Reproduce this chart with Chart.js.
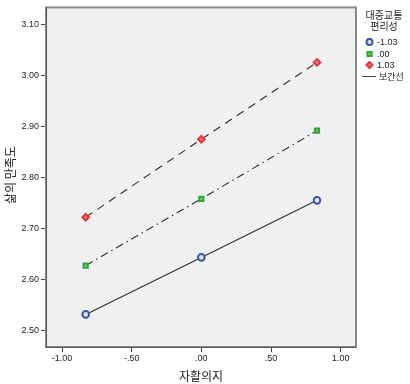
<!DOCTYPE html>
<html>
<head>
<meta charset="utf-8">
<script src="https://cdn.jsdelivr.net/npm/chart.js@4.4.0/dist/chart.umd.min.js"></script>
<style>
  html, body { margin: 0; padding: 0; background: #fff; }
  #wrap { width: 410px; height: 384px; position: relative; }
</style>
</head>
<body>
<div id="wrap"><canvas id="myChart" width="410" height="384"></canvas></div>
<script>
'use strict';

//***********Data***********
let xValues = [-0.83, 0, 0.83];
let lowSeries = [2.531, 2.643, 2.755];
let midSeries = [2.627, 2.758, 2.892];
let highSeries = [2.722, 2.875, 3.026];
let seriesNames = ['-1.03', '.00', '1.03'];
let xTickValues = [-1, -0.5, 0, 0.5, 1];
let xTickLabels = ['-1.00', '-.50', '.00', '.50', '1.00'];
let yTickValues = [2.5, 2.6, 2.7, 2.8, 2.9, 3.0, 3.1];
let yTickLabels = ['2.50', '2.60', '2.70', '2.80', '2.90', '3.00', '3.10'];
let legendTitle = ['대중교통', '편리성'];
let lineLabel = '보간선';
let xTitle = '자활의지';
let yTitle = '삶의 만족도';

let markerColors = ['#3b55a6', '#2fa43a', '#e2353c'];
let markerFills = ['#dfe6f5', '#6fd06a', '#f07a7a'];
let markerStyles = ['circle', 'rect', 'rectRot'];
let dashes = [[], [8, 4, 1.5, 4], [8, 6]];
let seriesData = [lowSeries, midSeries, highSeries];

let koreanFont = '"Noto Sans CJK KR", "Noto Sans", sans-serif';

function toPoints(values) {
  let pts = [];
  for (let i = 0; i < xValues.length; i++) {
    pts.push({ x: xValues[i], y: values[i] });
  }
  return pts;
}

let datasets = [];
for (let i = 0; i < seriesData.length; i++) {
  datasets.push({
    label: seriesNames[i],
    data: toPoints(seriesData[i]),
    showLine: true,
    borderColor: '#2e2e2e',
    borderWidth: 1.1,
    borderDash: dashes[i],
    pointStyle: markerStyles[i],
    pointRadius: i === 1 ? 3 : 3.3,
    pointBorderWidth: 2,
    pointBorderColor: markerColors[i],
    pointBackgroundColor: markerFills[i],
    tension: 0
  });
}

// plot frame + background
let framePlugin = {
  id: 'frame',
  beforeDatasetsDraw(chart) {
    let ctx = chart.ctx;
    let a = chart.chartArea;
    ctx.save();
    ctx.strokeStyle = '#8a8a8a';
    ctx.lineWidth = 2;
    ctx.strokeRect(a.left, a.top, a.right - a.left, a.bottom - a.top);
    ctx.strokeStyle = '#555';
    ctx.lineWidth = 1;
    ctx.beginPath();
    ctx.moveTo(a.left + 0.5, a.top);
    ctx.lineTo(a.left + 0.5, a.bottom + 0.5);
    ctx.lineTo(a.right, a.bottom + 0.5);
    ctx.stroke();
    ctx.restore();
  },
  beforeDraw(chart) {
    let ctx = chart.ctx;
    let a = chart.chartArea;
    ctx.save();
    ctx.fillStyle = '#f0f0f0';
    ctx.fillRect(a.left, a.top, a.right - a.left, a.bottom - a.top);
    ctx.restore();
  }
};

// axis titles and legend
let textPlugin = {
  id: 'texts',
  afterDraw(chart) {
    let ctx = chart.ctx;
    ctx.save();
    ctx.fillStyle = '#222';
    ctx.textAlign = 'center';
    ctx.textBaseline = 'middle';
    ctx.font = '12px ' + koreanFont;
    ctx.fillText(xTitle, 201, 376);
    ctx.save();
    ctx.translate(10, 175);
    ctx.rotate(-Math.PI / 2);
    ctx.fillText(yTitle, 0, 0);
    ctx.restore();

    // legend
    ctx.font = '10px ' + koreanFont;
    ctx.fillText(legendTitle[0], 384, 15);
    ctx.fillText(legendTitle[1], 384, 26);
    ctx.textAlign = 'left';
    ctx.font = '9px "Liberation Sans", Arial, sans-serif';
    let rowY = [42, 54, 65];
    for (let i = 0; i < seriesNames.length; i++) {
      ctx.save();
      ctx.lineWidth = 2;
      ctx.strokeStyle = markerColors[i];
      ctx.fillStyle = markerFills[i];
      Chart.helpers.drawPoint(ctx, { pointStyle: markerStyles[i], radius: 3, borderWidth: 2 }, 369.5, rowY[i]);
      ctx.restore();
      ctx.fillText(seriesNames[i], 377, rowY[i] + 0.5);
    }
    ctx.strokeStyle = '#444';
    ctx.lineWidth = 1;
    ctx.beginPath();
    ctx.moveTo(362, 76.5);
    ctx.lineTo(376, 76.5);
    ctx.stroke();
    ctx.font = '9px ' + koreanFont;
    ctx.fillText(lineLabel, 379, 76.5);
    ctx.restore();
  }
};

let tickFont = { family: '"Liberation Sans", Arial, sans-serif', size: 9 };

let ctx = document.getElementById('myChart').getContext('2d');
new Chart(ctx, {
  type: 'scatter',
  data: { datasets: datasets },
  options: {
    responsive: false,
    animation: false,
    layout: { padding: { left: 0, right: 54, top: 4, bottom: 0 } },
    plugins: { legend: { display: false }, tooltip: { enabled: false } },
    scales: {
      x: {
        type: 'linear',
        min: -1.115,
        max: 1.11,
        border: { display: false },
        grid: { drawOnChartArea: false, tickLength: 5, color: '#444', tickWidth: 1 },
        ticks: {
          font: tickFont,
          color: '#222',
          padding: 1,
          maxRotation: 0,
          callback: function (value) {
            let idx = xTickValues.findIndex(v => Math.abs(v - value) < 1e-6);
            return idx >= 0 ? xTickLabels[idx] : '';
          }
        },
        afterBuildTicks: function (scale) {
          scale.ticks = xTickValues.map(v => ({ value: v }));
        },
        afterFit: function (scale) { scale.height = 37; }
      },
      y: {
        type: 'linear',
        min: 2.467,
        max: 3.134,
        border: { display: false },
        grid: { drawOnChartArea: false, tickLength: 5, color: '#444', tickWidth: 1 },
        ticks: {
          font: tickFont,
          color: '#222',
          padding: 2,
          callback: function (value) {
            let idx = yTickValues.findIndex(v => Math.abs(v - value) < 1e-6);
            return idx >= 0 ? yTickLabels[idx] : '';
          }
        },
        afterBuildTicks: function (scale) {
          scale.ticks = yTickValues.map(v => ({ value: v }));
        },
        afterFit: function (scale) { scale.width = 46; }
      }
    }
  },
  plugins: [framePlugin, textPlugin]
});
</script>
</body>
</html>
